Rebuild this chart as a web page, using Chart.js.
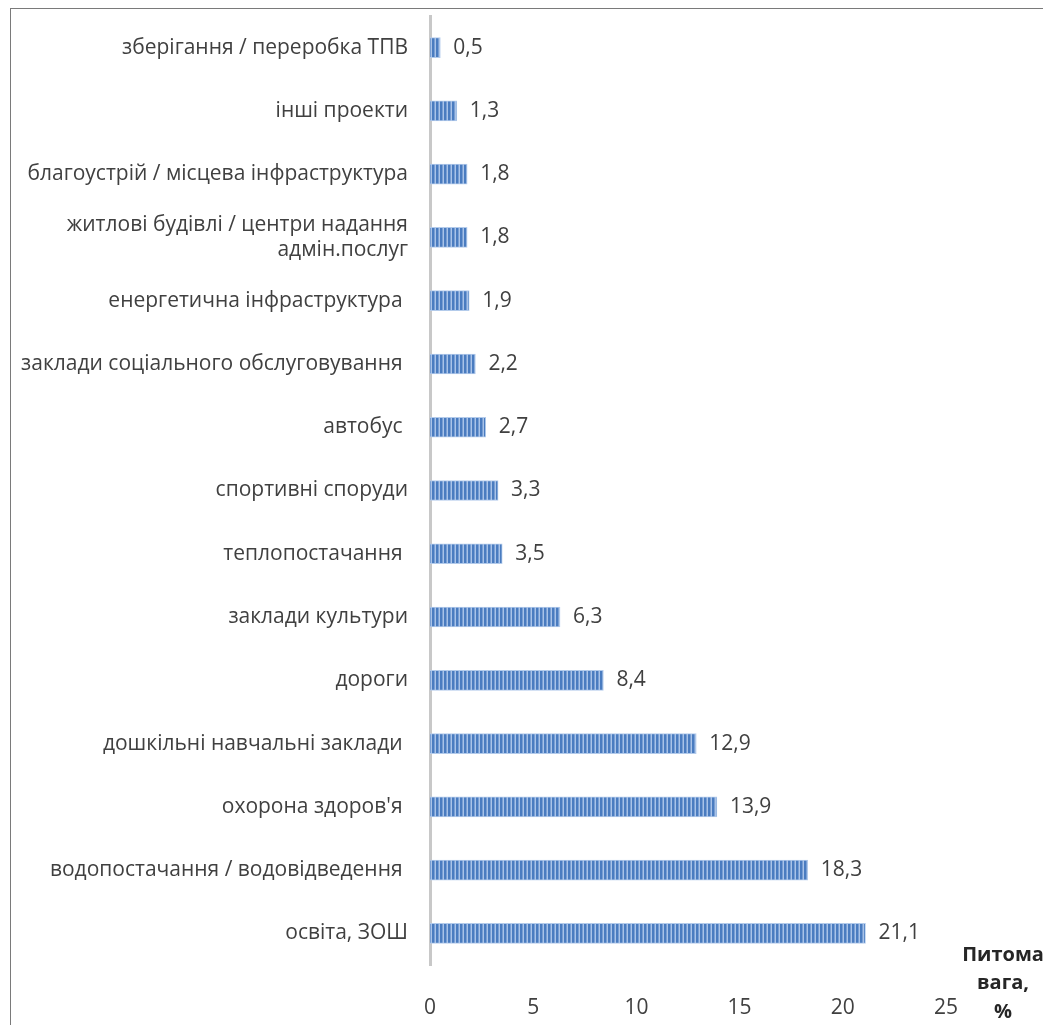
<!DOCTYPE html>
<html>
<head>
<meta charset="utf-8">
<script src="https://cdn.jsdelivr.net/npm/chart.js@4/dist/chart.umd.min.js"></script>
<style>
  html, body { margin: 0; padding: 0; background: #fff; overflow: hidden; }
  #wrap { position: absolute; left: 0; top: 0; width: 1043px; height: 1025px; }
  #frame { position: absolute; left: 10px; top: 8px; width: 1100px; height: 1100px;
           border-left: 1.5px solid #7a7a7a; border-top: 1.5px solid #7a7a7a; }
</style>
</head>
<body>
<div id="wrap">
  <div id="frame"></div>
  <canvas id="projectsChart" width="1043" height="1025"></canvas>
</div>
<script>
// categories, top to bottom as shown
const categories = [
  'зберігання / переробка ТПВ',
  'інші проекти',
  'благоустрій / місцева інфраструктура',
  ['житлові будівлі / центри надання', 'адмін.послуг'],
  'енергетична інфраструктура ',
  'заклади соціального обслуговування ',
  'автобус ',
  'спортивні споруди',
  'теплопостачання ',
  'заклади культури',
  'дороги',
  'дошкільні навчальні заклади ',
  "охорона здоров'я ",
  'водопостачання / водовідведення ',
  'освіта, ЗОШ'
];
const shares = [0.5, 1.3, 1.8, 1.8, 1.9, 2.2, 2.7, 3.3, 3.5, 6.3, 8.4, 12.9, 13.9, 18.3, 21.1];
const axisTitle = ['Питома', 'вага,', '%'];

const fontFamily = "'Open Sans', 'Noto Sans', sans-serif";
const textColor = '#404040';

// striped fill like the original
function stripePattern(ctx) {
  const c = document.createElement('canvas');
  c.width = 4; c.height = 4;
  const p = c.getContext('2d');
  p.fillStyle = '#a9c3e8';
  p.fillRect(0, 0, 4, 4);
  p.fillStyle = '#4a7cc0';
  p.fillRect(0, 0, 2.5, 4);
  return ctx.createPattern(c, 'repeat');
}

const valueLabels = {
  id: 'valueLabels',
  afterDatasetsDraw(chart) {
    const ctx = chart.ctx;
    const meta = chart.getDatasetMeta(0);
    ctx.save();
    ctx.font = '21px ' + fontFamily;
    ctx.fillStyle = textColor;
    ctx.textAlign = 'left';
    ctx.textBaseline = 'middle';
    meta.data.forEach((bar, i) => {
      ctx.fillText(String(shares[i]).replace('.', ','), bar.x + 13, bar.y);
    });
    // axis title at bottom right
    ctx.font = 'bold 20px ' + fontFamily;
    ctx.fillStyle = '#262626';
    ctx.textAlign = 'center';
    axisTitle.forEach((line, i) => {
      ctx.fillText(line, 1003, 955 + i * 28.5);
    });
    ctx.restore();
  }
};

const ctx = document.getElementById('projectsChart').getContext('2d');
new Chart(ctx, {
  type: 'bar',
  data: {
    labels: categories,
    datasets: [{
      data: shares,
      backgroundColor: stripePattern(ctx),
      borderColor: '#b3cbeb',
      borderWidth: 1,
      borderSkipped: 'start',
      barThickness: 20
    }]
  },
  options: {
    indexAxis: 'y',
    responsive: false,
    animation: false,
    layout: { padding: { top: 16, right: 97, left: 0, bottom: 0 } },
    plugins: {
      legend: { display: false },
      tooltip: { enabled: false }
    },
    scales: {
      x: {
        min: 0,
        max: 25,
        ticks: { stepSize: 5, color: textColor, padding: 22, font: { family: fontFamily, size: 21 } },
        grid: { display: false },
        border: { display: false },
        afterFit(scale) { scale.height = 60; }
      },
      y: {
        ticks: { color: textColor, padding: 22, font: { family: fontFamily, size: 21 }, autoSkip: false },
        grid: { display: false, drawTicks: false },
        border: { display: true, color: '#c8c8c8', width: 3 },
        afterFit(scale) {
          scale.width = 430;
          scale.paddingTop = 0;
          scale.paddingBottom = 0;
        }
      }
    }
  },
  plugins: [valueLabels]
});
</script>
</body>
</html>
